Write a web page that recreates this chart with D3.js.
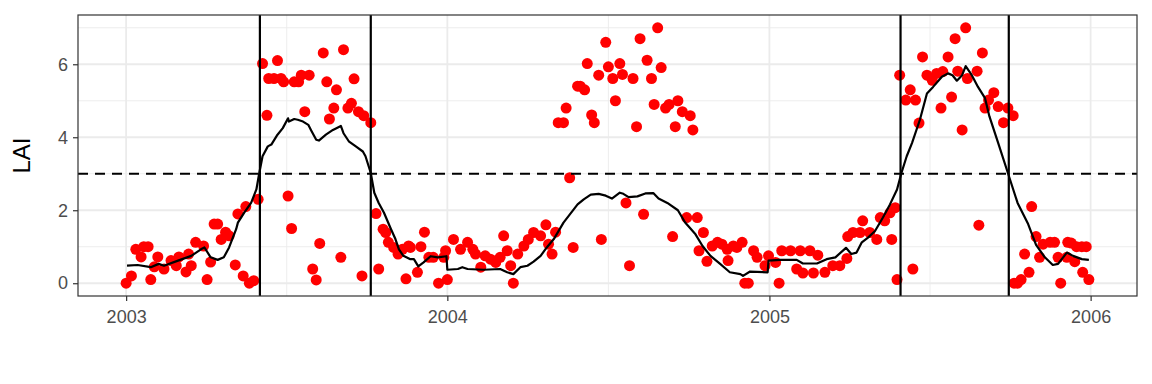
<!DOCTYPE html>
<html>
<head>
<meta charset="utf-8">
<script src="https://cdn.jsdelivr.net/npm/d3@7"></script>
<style>
  body { margin: 0; background: #fff; }
  #vis-container { width: 1152px; height: 384px; }
  text { font-family: "Liberation Sans", Arial, sans-serif; }
</style>
</head>
<body>
<div id="vis-container"></div>
<script>
// observations: days since 2003-01-01 and LAI
const startDate = "2003-01-01";
const obsDay = [0, 6, 11, 17, 20, 25, 28, 32, 36, 43, 51, 57, 60, 68, 71, 74, 79, 88, 92, 96,
  100, 104, 108, 113, 117, 124, 127, 133, 136, 140, 145, 150, 155, 160, 162, 168, 172, 176, 179, 184,
  188, 191, 196, 199, 203, 208, 212, 216, 220, 224, 228, 231, 236, 239, 244, 247, 252, 256, 259, 264,
  268, 270, 278, 284, 287, 292, 295, 298, 304, 309, 314, 318, 321, 323, 331, 335, 339, 344, 349, 355,
  361, 363, 365, 372, 380, 388, 394, 397, 403, 408, 414, 420, 425, 429, 433, 437, 440, 445, 452, 457,
  463, 471, 477, 480, 484, 488, 491, 497, 500, 504, 508, 513, 516, 521, 524, 529, 532, 537, 540, 545,
  548, 553, 556, 561, 564, 568, 572, 576, 580, 584, 588, 592, 597, 600, 604, 608, 613, 617, 621, 624,
  627, 632, 637, 641, 644, 649, 651, 656, 660, 666, 672, 677, 683, 684, 690, 694, 700, 703, 707, 713,
  717, 726, 730, 738, 742, 745, 755, 762, 766, 769, 777, 781, 786, 794, 803, 811, 819, 820, 826, 834,
  837, 845, 853, 857, 862, 868, 870, 874, 876, 879, 886, 891, 894, 897, 901, 905, 910, 916, 921, 926,
  928, 934, 938, 942, 945, 950, 954, 956, 967, 969, 973, 976, 980, 986, 991, 997, 1002, 1008, 1009, 1013,
  1017, 1021, 1026, 1029, 1034, 1038, 1042, 1050, 1055, 1059, 1062, 1069, 1070, 1074, 1078, 1080, 1086, 1087, 1091, 1094];
const obsLai = [0.0, 0.2, 0.93, 0.72, 1.0, 1.0, 0.1, 0.45, 0.72, 0.39, 0.62, 0.48, 0.72, 0.31, 0.8, 0.48, 1.12, 1.02, 0.1, 0.58,
  1.62, 1.62, 1.2, 1.4, 1.3, 0.5, 1.9, 0.2, 2.1, 0.0, 0.07, 2.3, 6.02, 4.6, 5.61, 5.61, 6.1, 5.61, 5.52, 2.39,
  1.5, 5.52, 5.52, 5.7, 4.7, 5.7, 0.39, 0.09, 1.09, 6.31, 5.52, 4.5, 4.8, 5.3, 0.71, 6.4, 4.8, 4.93, 5.6, 4.7,
  0.2, 4.59, 4.4, 1.91, 0.39, 1.48, 1.39, 1.12, 0.98, 0.8, 0.93, 0.12, 1.02, 0.98, 0.3, 1.0, 1.4, 0.71, 0.71, 0.0,
  0.71, 0.89, 0.1, 1.2, 0.93, 1.12, 0.93, 0.8, 0.44, 0.75, 0.66, 0.57, 0.71, 1.3, 0.89, 0.48, 0.0, 0.8, 1.02, 1.2,
  1.39, 1.3, 1.6, 1.07, 0.8, 1.4, 4.4, 4.4, 4.8, 2.89, 0.98, 5.4, 5.4, 5.3, 6.02, 4.61, 4.4, 5.7, 1.2, 6.6,
  5.93, 5.61, 5.0, 6.02, 5.72, 2.2, 0.48, 5.61, 4.29, 6.7, 1.89, 6.11, 5.61, 4.9, 7.0, 5.91, 4.8, 4.9, 1.28, 4.29,
  5.0, 4.7, 1.8, 4.59, 4.2, 1.8, 0.89, 1.39, 0.6, 1.02, 1.12, 1.07, 0.93, 0.62, 1.02, 0.98, 1.12, 0.0, 0.0, 0.89,
  0.71, 0.48, 0.75, 0.57, 0.0, 0.89, 0.89, 0.39, 0.89, 0.28, 0.89, 0.28, 0.77, 0.3, 0.48, 0.48, 0.68, 1.28, 1.39, 1.39,
  1.71, 1.39, 1.2, 1.8, 1.71, 1.93, 1.2, 2.07, 0.1, 5.7, 5.02, 5.3, 0.39, 5.02, 4.39, 6.2, 5.7, 5.56, 5.75, 4.8,
  5.8, 6.2, 5.1, 6.7, 5.81, 4.2, 7.0, 5.61, 5.81, 1.59, 6.31, 4.8, 5.02, 5.22, 4.84, 4.4, 4.8, 4.59, 0.0, 0.0,
  0.1, 0.8, 0.3, 2.1, 1.28, 0.71, 1.07, 1.12, 1.12, 0.71, 0.0, 0.71, 1.12, 1.1, 0.59, 1.0, 1.0, 0.3, 1.0, 0.1];

// smoothed LAI curve
const smoothDay = [1, 13, 28, 37, 43, 59, 74, 85, 89, 96, 104, 111, 117, 125, 127, 134, 142, 148, 151, 155,
  161, 165, 172, 178, 184, 185, 191, 195, 201, 207, 210, 216, 219, 227, 235, 244, 247, 253, 261, 269,
  272, 278, 282, 287, 293, 301, 306, 310, 315, 323, 327, 332, 338, 346, 354, 364, 365, 377, 382, 388,
  406, 425, 433, 440, 448, 456, 463, 471, 478, 486, 497, 513, 520, 528, 537, 545, 552, 561, 565, 571,
  581, 590, 599, 605, 615, 627, 635, 647, 655, 664, 675, 686, 698, 701, 709, 729, 730, 743, 762, 769,
  785, 796, 806, 818, 824, 830, 836, 843, 851, 860, 868, 876, 881, 887, 893, 902, 910, 917, 927, 934,
  939, 944, 950, 954, 961, 968, 976, 981, 991, 1002, 1013, 1025, 1034, 1044, 1053, 1059, 1069, 1076, 1086, 1094];
const smoothLai = [0.48, 0.5, 0.44, 0.53, 0.48, 0.62, 0.75, 0.93, 0.98, 0.71, 0.64, 0.71, 0.98, 1.48, 1.66, 1.93, 2.2, 2.57, 2.98, 3.48,
  3.75, 3.8, 4.07, 4.25, 4.52, 4.43, 4.5, 4.48, 4.43, 4.34, 4.2, 3.93, 3.91, 4.07, 4.2, 4.31, 4.11, 3.89, 3.75, 3.61,
  3.48, 3.02, 2.48, 2.2, 1.93, 1.48, 1.21, 0.93, 0.75, 0.66, 0.66, 0.46, 0.57, 0.74, 0.71, 0.74, 0.37, 0.39, 0.44, 0.39,
  0.37, 0.39, 0.3, 0.25, 0.44, 0.48, 0.59, 0.75, 0.98, 1.21, 1.66, 2.16, 2.3, 2.43, 2.45, 2.4, 2.32, 2.48, 2.45, 2.36,
  2.38, 2.46, 2.47, 2.32, 2.2, 2.0, 1.67, 1.34, 1.02, 0.75, 0.53, 0.3, 0.25, 0.2, 0.32, 0.3, 0.62, 0.64, 0.64, 0.54,
  0.54, 0.66, 0.71, 0.97, 0.8, 0.84, 1.12, 1.25, 1.43, 1.8, 2.16, 2.57, 3.02, 3.48, 3.84, 4.48, 5.2, 5.38, 5.66, 5.75,
  5.7, 5.55, 5.7, 5.95, 5.7, 5.38, 5.07, 4.57, 3.84, 3.02, 2.2, 1.62, 1.05, 0.71, 0.5, 0.53, 0.84, 0.75, 0.66, 0.64];

// season start / end days and threshold
const seasonDay = [152, 278, 880, 1003];
const laiThreshold = 3;
const yearTicks = ["2003", "2004", "2005", "2006"];
const laiTicks = [0, 2, 4, 6];
const laiMinor = [1, 3, 5, 7];

document.addEventListener("DOMContentLoaded", () => {
  const parseDay = d3.timeParse("%Y-%m-%d");
  const t0 = parseDay(startDate);
  const toDate = d => d3.timeDay.offset(t0, d);

  const obs = obsDay.map((d, i) => ({ date: toDate(d), lai: obsLai[i] }));
  const smooth = smoothDay.map((d, i) => ({ date: toDate(d), lai: smoothLai[i] }));
  drawChart(obs, smooth, toDate);
});

function drawChart(obs, smooth, toDate) {
  const W = 1152, H = 384;
  const margin = { top: 15, right: 15, bottom: 88, left: 78 };
  const width = W - margin.left - margin.right;
  const height = H - margin.top - margin.bottom;

  const svg = d3.select("#vis-container")
    .append("svg")
    .attr("width", W)
    .attr("height", H)
    .append("g")
    .attr("transform", `translate(${margin.left},${margin.top})`);

  // ggplot-like 5% expansion
  const [t0, t1] = d3.extent(obs, d => d.date);
  const pad = (t1 - t0) * 0.05;
  const x = d3.scaleTime()
    .domain([new Date(+t0 - pad), new Date(+t1 + pad)])
    .range([0, width]);

  const [y0, y1] = d3.extent(obs, d => d.lai);
  const ypad = (y1 - y0) * 0.05;
  const y = d3.scaleLinear()
    .domain([y0 - ypad, y1 + ypad])
    .range([height, 0]);

  const years = yearTicks.map(d3.timeParse("%Y"));
  const midYears = d3.pairs(years).map(([a, b]) => new Date((+a + +b) / 2));

  // grid
  const grid = svg.append("g");
  grid.selectAll(".ymin").data(laiMinor).join("line")
    .attr("x1", 0).attr("x2", width)
    .attr("y1", d => y(d)).attr("y2", d => y(d))
    .attr("stroke", "#ebebeb").attr("stroke-width", 0.9);
  grid.selectAll(".xmin").data(midYears).join("line")
    .attr("x1", d => x(d)).attr("x2", d => x(d))
    .attr("y1", 0).attr("y2", height)
    .attr("stroke", "#ebebeb").attr("stroke-width", 0.9);
  grid.selectAll(".ymaj").data(laiTicks).join("line")
    .attr("x1", 0).attr("x2", width)
    .attr("y1", d => y(d)).attr("y2", d => y(d))
    .attr("stroke", "#ebebeb").attr("stroke-width", 1.8);
  grid.selectAll(".xmaj").data(years).join("line")
    .attr("x1", d => x(d)).attr("x2", d => x(d))
    .attr("y1", 0).attr("y2", height)
    .attr("stroke", "#ebebeb").attr("stroke-width", 1.8);

  // points
  svg.append("g").selectAll("circle")
    .data(obs)
    .join("circle")
    .attr("cx", d => x(d.date))
    .attr("cy", d => y(d.lai))
    .attr("r", 5.5)
    .attr("fill", "#ff0000");

  // smoothed line
  const line = d3.line()
    .x(d => x(d.date))
    .y(d => y(d.lai));
  svg.append("path")
    .datum(smooth)
    .attr("fill", "none")
    .attr("stroke", "#000")
    .attr("stroke-width", 2.2)
    .attr("stroke-linejoin", "round")
    .attr("d", line);

  // threshold
  svg.append("line")
    .attr("x1", 0).attr("x2", width)
    .attr("y1", y(laiThreshold)).attr("y2", y(laiThreshold))
    .attr("stroke", "#000")
    .attr("stroke-width", 2.2)
    .attr("stroke-dasharray", "10,7");

  // season boundaries
  svg.append("g").selectAll("line")
    .data(seasonDay)
    .join("line")
    .attr("x1", d => x(toDate(d))).attr("x2", d => x(toDate(d)))
    .attr("y1", 0).attr("y2", height)
    .attr("stroke", "#000")
    .attr("stroke-width", 2.2);

  // panel border
  svg.append("rect")
    .attr("width", width)
    .attr("height", height)
    .attr("fill", "none")
    .attr("stroke", "#333")
    .attr("stroke-width", 1.2);

  // axes
  const xAxis = svg.append("g")
    .attr("transform", `translate(0,${height})`)
    .call(d3.axisBottom(x).tickValues(years).tickFormat(d3.timeFormat("%Y")).tickSize(5).tickPadding(9));
  const yAxis = svg.append("g")
    .call(d3.axisLeft(y).tickValues(laiTicks).tickSize(5).tickPadding(5));

  [xAxis, yAxis].forEach(a => {
    a.select(".domain").remove();
    a.selectAll(".tick line").attr("stroke", "#333").attr("stroke-width", 1.2);
    a.selectAll(".tick text")
      .attr("fill", "#4d4d4d")
      .style("font-size", "18px")
      .style("font-family", "'Liberation Sans', Arial, sans-serif");
  });

  // y title
  svg.append("text")
    .attr("transform", `translate(${-48},${height / 2}) rotate(-90)`)
    .attr("text-anchor", "middle")
    .style("font-size", "24px")
    .attr("fill", "#000")
    .text("LAI");
}
</script>
</body>
</html>
